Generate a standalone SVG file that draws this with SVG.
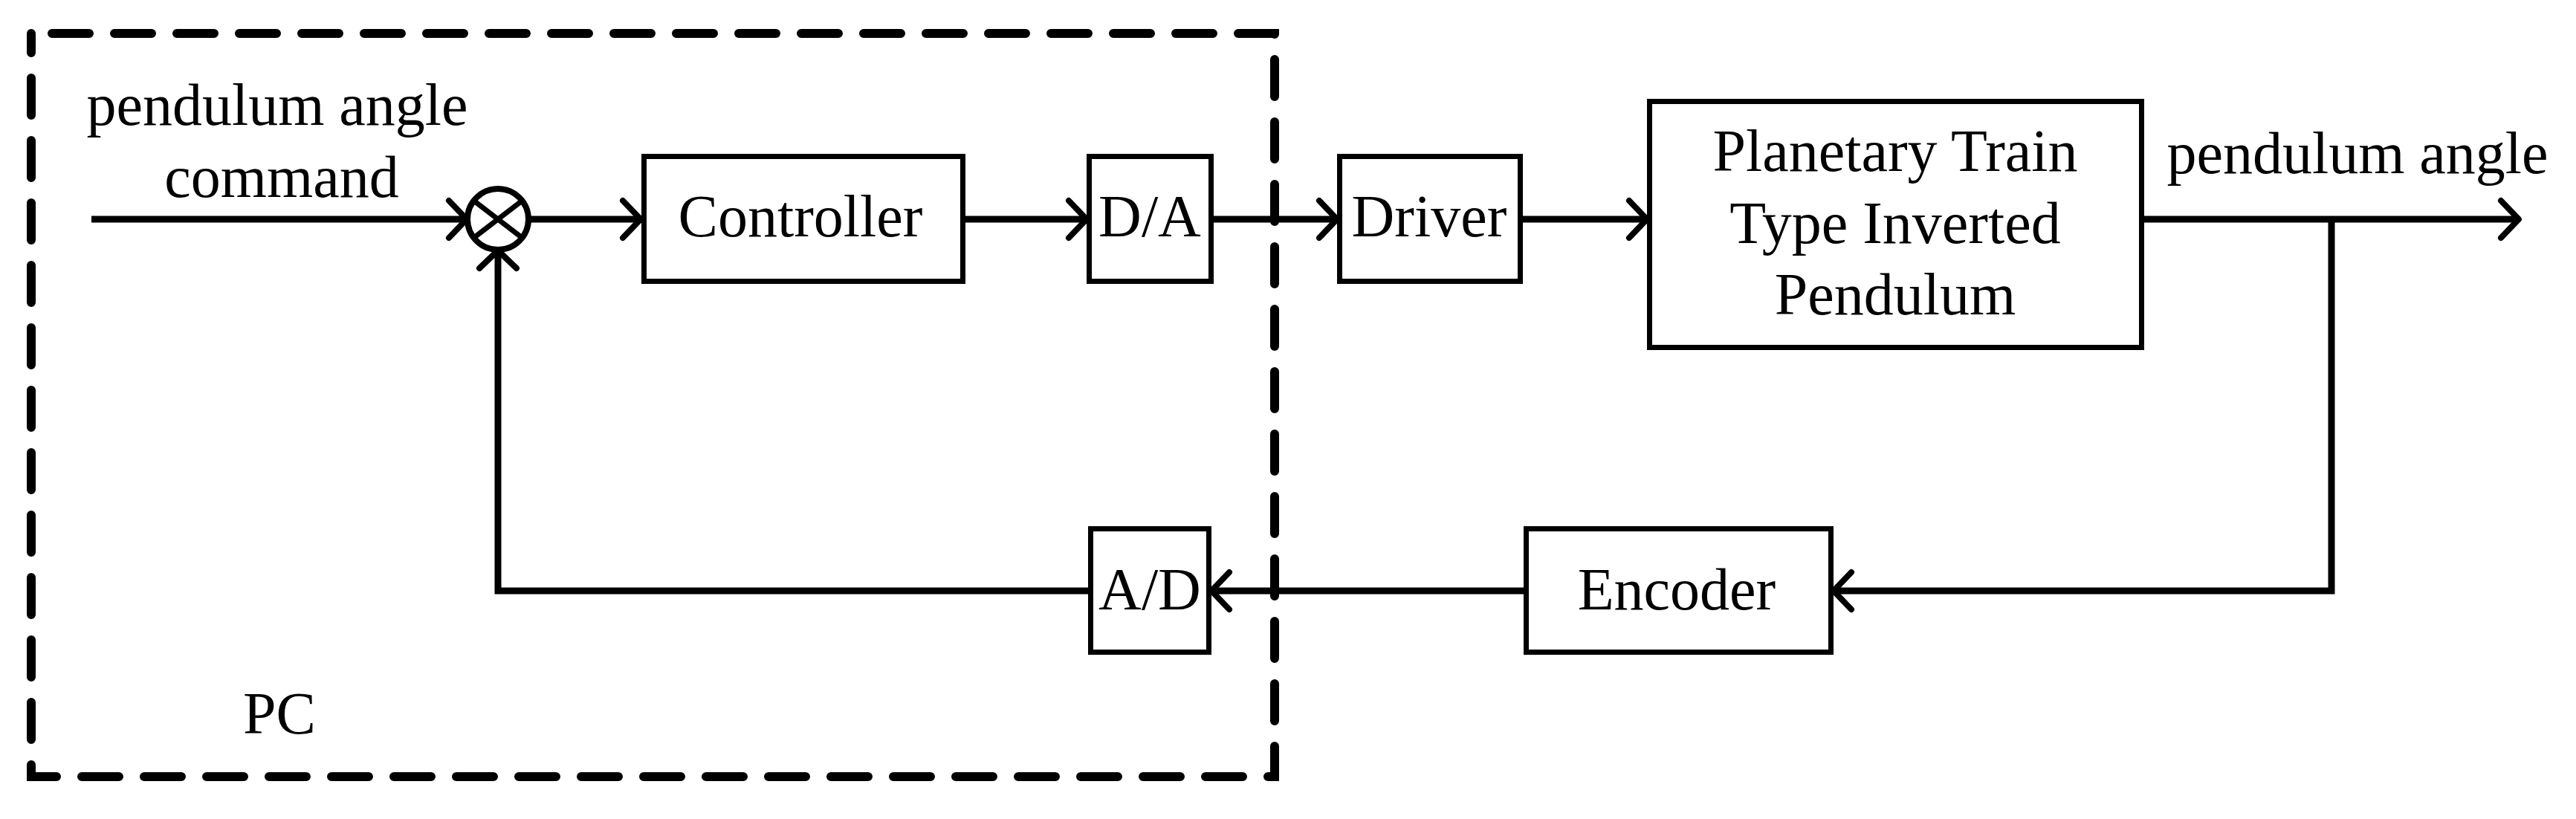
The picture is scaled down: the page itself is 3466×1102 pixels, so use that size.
<svg xmlns="http://www.w3.org/2000/svg" width="3466" height="1102" viewBox="0 0 3466 1102">
  <style>
    .box { fill: #fff; stroke: #000; stroke-width: 7; }
    .lbl { font-family: "Liberation Serif", "Times New Roman", serif; font-size: 80px; fill: #000; text-anchor: middle; }
    .wire { fill: none; stroke: #000; stroke-width: 9; marker-end: url(#arr); }
    .pc { fill: none; stroke: #000; stroke-width: 12; stroke-linecap: round; stroke-dasharray: 50 34; }
  </style>
  <defs>
    <marker id="arr" markerUnits="userSpaceOnUse" viewBox="-40 -40 50 80" refX="0" refY="0" markerWidth="50" markerHeight="80" orient="auto">
      <path d="M-24,-25 L0,0 L-24,25" fill="none" stroke="#000" stroke-width="8" stroke-linejoin="round" stroke-linecap="round"/>
    </marker>
  </defs>
  <rect width="3466" height="1102" fill="#fff"/>

  <g id="pc-boundary">
    <rect class="pc" x="42" y="45" width="1673" height="1000" stroke-dashoffset="56"/>
    <text class="lbl" x="376" y="987">PC</text>
  </g>

  <g id="input-label">
    <text class="lbl" x="373" y="168">pendulum angle</text>
    <text class="lbl" x="379" y="265">command</text>
  </g>

  <g id="sum">
    <circle cx="670" cy="295" r="41" fill="#fff" stroke="#000" stroke-width="8"/>
    <line x1="640" y1="272" x2="700" y2="318" stroke="#000" stroke-width="7"/>
    <line x1="700" y1="272" x2="640" y2="318" stroke="#000" stroke-width="7"/>
  </g>

  <g id="controller">
    <rect class="box" x="866.5" y="210.5" width="429" height="168"/>
    <text class="lbl" x="1077" y="318">Controller</text>
  </g>

  <g id="da">
    <rect class="box" x="1465.5" y="210.5" width="164" height="168"/>
    <text class="lbl" x="1547" y="318">D/A</text>
  </g>

  <g id="driver">
    <rect class="box" x="1802.5" y="210.5" width="243" height="168"/>
    <text class="lbl" x="1923" y="318">Driver</text>
  </g>

  <g id="plant">
    <rect class="box" x="2219.5" y="136.5" width="662" height="331"/>
    <text class="lbl" x="2550" y="230">Planetary Train</text>
    <text class="lbl" x="2550" y="327">Type Inverted</text>
    <text class="lbl" x="2550" y="423">Pendulum</text>
  </g>

  <g id="output-label">
    <text class="lbl" x="3172" y="233">pendulum angle</text>
  </g>

  <g id="encoder">
    <rect class="box" x="2053.5" y="711.5" width="410" height="166"/>
    <text class="lbl" x="2256" y="820">Encoder</text>
  </g>

  <g id="ad">
    <rect class="box" x="1467.5" y="711.5" width="159" height="166"/>
    <text class="lbl" x="1547" y="820">A/D</text>
  </g>

  <g id="connectors">
    <path class="wire" d="M123,295 H628"/>
    <path class="wire" d="M712,295 H862"/>
    <path class="wire" d="M1299,295 H1462"/>
    <path class="wire" d="M1633,295 H1799"/>
    <path class="wire" d="M2049,295 H2216"/>
    <path class="wire" d="M2885,295 H3389"/>
    <path class="wire" d="M3137,295 V795 H2467"/>
    <path class="wire" d="M2050,795 H1630"/>
    <path class="wire" d="M1464,795 H670 V337"/>
  </g>
</svg>
